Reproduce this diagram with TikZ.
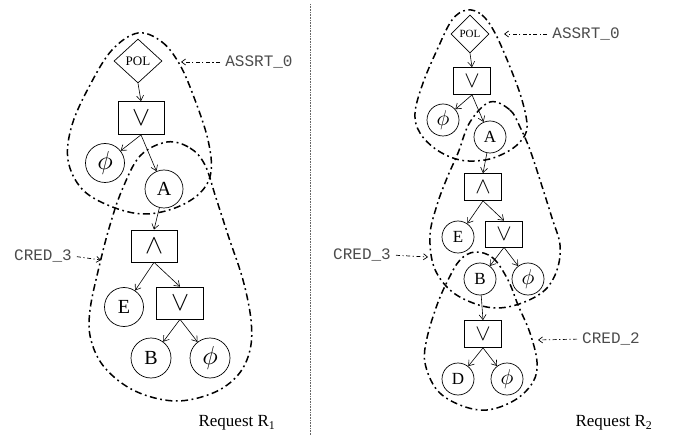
\documentclass[tikz,border=0pt]{standalone}
\usepackage{graphicx}
\usepackage{fontspec}
\setmainfont{Liberation Serif}
\newfontfamily\monofam{Liberation Mono}
\usetikzlibrary{shapes.geometric,arrows.meta}
\newcommand{\bigphi}[1]{\scalebox{#1}{$\phi$}}
\newcommand{\bigor}[1]{\scalebox{#1}{$\vee$}}
\newcommand{\bigand}[1]{\scalebox{#1}{$\wedge$}}
\begin{document}
\begin{tikzpicture}[x=1pt,y=-1pt,
  every node/.style={inner sep=0pt},
  polnode/.style={draw,diamond,line width=0.7pt},
  opnode/.style={draw,rectangle,line width=0.7pt},
  leafnode/.style={draw,circle,line width=0.7pt},
  conn/.style={line width=0.6pt,-{Straight Barb[length=5pt,width=7pt]}},
  blob/.style={line width=1.5pt,dash pattern=on 7pt off 3.5pt on 1.8pt off 3.5pt},
  annot/.style={line width=0.7pt,dash pattern=on 4pt off 2.5pt on 1.2pt off 2.5pt,shorten <=5pt,-{Straight Barb[length=4pt,width=6pt]}},
  monolbl/.style={font=\monofam\fontsize{16}{16}\selectfont,text=black!70},
  reqlbl/.style={font=\fontsize{17}{17}\selectfont},
  sep/.style={line width=0.6pt,densely dotted,black!60}]
\useasboundingbox (0,0) rectangle (679,435);
% separator
\coordinate (sepTop) at (310,4);
\coordinate (sepBot) at (310,435);
\draw[sep] (sepTop) -- (sepBot);

% ---------------- Left tree (Request R1) ----------------
\begin{scope}[every node/.append style={font=\fontsize{20}{20}\selectfont}]
\node[polnode,minimum width=48pt,minimum height=44pt,font=\fontsize{13}{13}\selectfont] (pol1) at (138,61) {POL};
\node[opnode,minimum width=46pt,minimum height=33pt,font=\normalsize] (or1) at (141,118) {\bigor{2.7}};
\node[leafnode,minimum size=39pt,font=\normalsize] (phi1) at (105,163) {\bigphi{2.6}};
\node[leafnode,minimum size=38pt] (A1) at (164,189) {A};
\node[opnode,minimum width=46pt,minimum height=32pt,font=\normalsize] (and1) at (154,246) {\bigand{2.7}};
\node[leafnode,minimum size=39pt] (E1) at (124,307) {E};
\node[opnode,minimum width=47pt,minimum height=32pt,font=\normalsize] (or2) at (180,303) {\bigor{2.7}};
\node[leafnode,minimum size=40pt] (B1) at (151,358) {B};
\node[leafnode,minimum size=40pt,font=\normalsize] (phi2) at (210,358) {\bigphi{2.6}};
\end{scope}
\draw[conn] (pol1.south) -- (or1.north);
\draw[conn] (or1.south) -- (phi1);
\draw[conn] (or1.south) -- (A1);
\draw[conn] (A1) -- (and1.north);
\draw[conn] (and1.south) -- (E1);
\draw[conn] (and1.south) -- (or2.north);
\draw[conn] (or2.south) -- (B1);
\draw[conn] (or2.south) -- (phi2);

\draw[blob] plot[smooth cycle,tension=0.6] coordinates {(138,33) (162,42) (180,65) (195,100) (208,140) (211,172) (200,193) (175,208) (143,214) (110,206) (82,189) (68,160) (72,125) (90,85) (112,50)};
\draw[blob] plot[smooth cycle,tension=0.6] coordinates {(167,142) (190,148) (205,165) (216,198) (229,238) (243,280) (251,320) (250,350) (238,375) (213,393) (175,401) (135,391) (105,368) (91,340) (90,310) (100,263) (110,225) (122,190) (140,156)};

\node[monolbl] (assrt1) at (259,62) {ASSRT\_0};
\coordinate (assrt1tip) at (181,62);
\draw[annot] (assrt1.west) -- (assrt1tip);
\node[monolbl] (cred31) at (43,256) {CRED\_3};
\coordinate (cred31tip) at (101,260);
\draw[annot] (cred31.east) -- (cred31tip);
\node[reqlbl] (req1) at (237,423) {Request R\textsubscript{1}};

% ---------------- Right tree (Request R2) ----------------
\begin{scope}[every node/.append style={font=\fontsize{17}{17}\selectfont}]
\node[polnode,minimum width=38pt,minimum height=38pt,font=\fontsize{11}{11}\selectfont] (pol2) at (470,34) {POL};
\node[opnode,minimum width=37pt,minimum height=27pt,font=\normalsize] (or3) at (472,81) {\bigor{2.3}};
\node[leafnode,minimum size=32pt,font=\normalsize] (phi3) at (443,120) {\bigphi{2.15}};
\node[leafnode,minimum size=32pt] (A2) at (490,137) {A};
\node[opnode,minimum width=37pt,minimum height=27pt,font=\normalsize] (and2) at (483,187) {\bigand{2.3}};
\node[leafnode,minimum size=32pt] (E2) at (458,237) {E};
\node[opnode,minimum width=37pt,minimum height=26pt,font=\normalsize] (or4) at (504,234) {\bigor{2.3}};
\node[leafnode,minimum size=32pt] (B2) at (480,279) {B};
\node[leafnode,minimum size=32pt,font=\normalsize] (phi4) at (528,279) {\bigphi{2.15}};
\node[opnode,minimum width=37pt,minimum height=27pt,font=\normalsize] (or5) at (483,334) {\bigor{2.3}};
\node[leafnode,minimum size=32pt] (D2) at (458,379) {D};
\node[leafnode,minimum size=32pt,font=\normalsize] (phi5) at (507,379) {\bigphi{2.15}};
\end{scope}
\draw[conn] (pol2.south) -- (or3.north);
\draw[conn] (or3.south) -- (phi3);
\draw[conn] (or3.south) -- (A2);
\draw[conn] (A2) -- (and2.north);
\draw[conn] (and2.south) -- (E2);
\draw[conn] (and2.south) -- (or4.north);
\draw[conn] (or4.south) -- (B2);
\draw[conn] (or4.south) -- (phi4);
\draw[conn] (B2) -- (or5.north);
\draw[conn] (or5.south) -- (D2);
\draw[conn] (or5.south) -- (phi5);

\draw[blob] plot[smooth cycle,tension=0.6] coordinates {(467,10) (482,15) (495,33) (510,67) (522,100) (527,127) (520,142) (505,153) (485,160) (460,160) (437,150) (420,133) (415,113) (423,83) (437,50) (452,20)};
\draw[blob] plot[smooth cycle,tension=0.6] coordinates {(490,102) (510,110) (520,127) (530,150) (540,180) (552,218) (560,245) (557,270) (545,290) (522,303) (497,308) (473,303) (450,290) (434,267) (430,235) (437,205) (447,178) (458,153) (470,122)};
\draw[blob] plot[smooth cycle,tension=0.6] coordinates {(475,252) (493,258) (508,280) (518,305) (530,333) (537,362) (533,382) (515,400) (487,410) (460,405) (437,390) (425,363) (427,338) (437,305) (448,280) (460,260)};

\node[monolbl] (assrt2) at (586,34) {ASSRT\_0};
\coordinate (assrt2tip) at (504,34);
\draw[annot] (assrt2.west) -- (assrt2tip);
\node[monolbl] (cred32) at (362,255) {CRED\_3};
\coordinate (cred32tip) at (428,257);
\draw[annot] (cred32.east) -- (cred32tip);
\node[monolbl] (cred22) at (611,339) {CRED\_2};
\coordinate (cred22tip) at (538,340);
\draw[annot] (cred22.west) -- (cred22tip);
\node[reqlbl] (req2) at (614,423) {Request R\textsubscript{2}};
\end{tikzpicture}
\end{document}
